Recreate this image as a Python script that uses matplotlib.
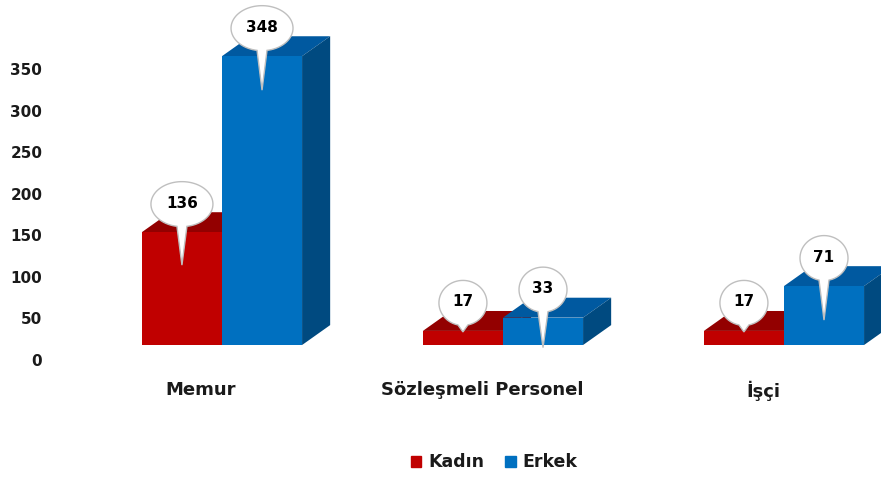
import numpy as np
import matplotlib
matplotlib.use("Agg")
import matplotlib.pyplot as plt
import matplotlib.transforms as mtransforms
from matplotlib.patches import Polygon, PathPatch, Patch
from matplotlib.path import Path

# data
categories = ["Memur", "Sözleşmeli Personel", "İşçi"]
series = ["Kadın", "Erkek"]
kadin = [136, 17, 17]
erkek = [348, 33, 71]
yticks = [0, 50, 100, 150, 200, 250, 300, 350]

# styles
front = {"Kadın": "#C00000", "Erkek": "#0070C0"}
top_c = {"Kadın": "#930000", "Erkek": "#0059A0"}
side_c = {"Kadın": "#7A0000", "Erkek": "#004A80"}
tail_len = {"Kadın": [33, 1, 1], "Erkek": [34, 30, 34]}  # callout tail (px below top)
bw = 0.285
dx, dy = 0.1, 24.0
txtc = "#1a1a1a"

plt.rcParams["font.family"] = "DejaVu Sans"
plt.rcParams["font.weight"] = "bold"

fig = plt.figure(figsize=(8.81, 4.78), dpi=100)
ax = fig.add_axes([0.0606, 0.2782, 0.9377, 0.6946])
ax.set_xlim(-0.6, 2.34)
ax.set_ylim(0, 400)

x = np.arange(len(categories))


def draw_callout(xd, yd, val, tail):
    # balloon shape drawn in pixels around the bar top
    off = mtransforms.ScaledTranslation(xd, yd, ax.transData)
    n = len(str(val))
    a, b = (20 + 14 * n) / 2, 22.5
    c = 28
    wt = 5
    t0 = -np.pi / 2 + np.arcsin(wt / a)
    t1 = 3 * np.pi / 2 - np.arcsin(wt / a)
    th = np.linspace(t0, t1, 80)
    pts = list(zip(a * np.cos(th), c + b * np.sin(th)))
    pts.append((0, -tail))
    pts.append(pts[0])
    codes = [Path.MOVETO] + [Path.LINETO] * (len(pts) - 2) + [Path.CLOSEPOLY]
    pp = PathPatch(Path(pts, codes), facecolor="white", edgecolor="#BFBFBF",
                   lw=1.0, transform=off, clip_on=False, zorder=6)
    ax.add_patch(pp)
    ax.text(0, c + 1, str(val), ha="center", va="center", fontsize=11,
            color="black", fontweight="bold", zorder=7,
            transform=mtransforms.Affine2D() + off)


for name, vals, sgn, z in [("Kadın", kadin, -1, 2), ("Erkek", erkek, 0, 3)]:
    x0 = x + (sgn * bw)
    ax.bar(x0, vals, width=bw, align="edge", color=front[name], zorder=z + 1,
           label=name)
    for xi, h in zip(x0, vals):
        x1 = xi + bw
        ax.add_patch(Polygon([(xi, h), (x1, h), (x1 + dx, h + dy), (xi + dx, h + dy)],
                             closed=True, color=top_c[name], zorder=z, lw=0,
                             clip_on=False))
        ax.add_patch(Polygon([(x1, 0), (x1 + dx, dy), (x1 + dx, h + dy), (x1, h)],
                             closed=True, color=side_c[name], zorder=z, lw=0,
                             clip_on=False))
    for xi, h, t in zip(x0, vals, tail_len[name]):
        draw_callout(xi + bw / 2, h, h, t)

for s in ax.spines.values():
    s.set_visible(False)

ax.set_yticks(yticks)
ax.set_yticklabels([str(v) for v in yticks])
ax.tick_params(axis="y", length=0, pad=8, labelsize=11, labelcolor=txtc)
ax.set_xticks(x)
ax.set_xticklabels(categories)
ax.tick_params(axis="x", length=0, pad=26, labelsize=13, labelcolor=txtc)

yoff = mtransforms.ScaledTranslation(0, -14.5 / 100, fig.dpi_scale_trans)
for lab in ax.get_yticklabels():
    lab.set_transform(lab.get_transform() + yoff)
xoff = mtransforms.ScaledTranslation(-21 / 100, 0, fig.dpi_scale_trans)
for lab in ax.get_xticklabels():
    lab.set_transform(lab.get_transform() + xoff)

handles = [Patch(color=front[s]) for s in series]
fig.legend(handles, series, loc="center", bbox_to_anchor=(0.561, 0.033), ncol=2,
           frameon=False, handlelength=0.6, handleheight=0.6, handletextpad=0.4,
           columnspacing=1.2, prop={"size": 12.5, "weight": "bold"},
           labelcolor=txtc)

fig.savefig("out.png", dpi=100)
